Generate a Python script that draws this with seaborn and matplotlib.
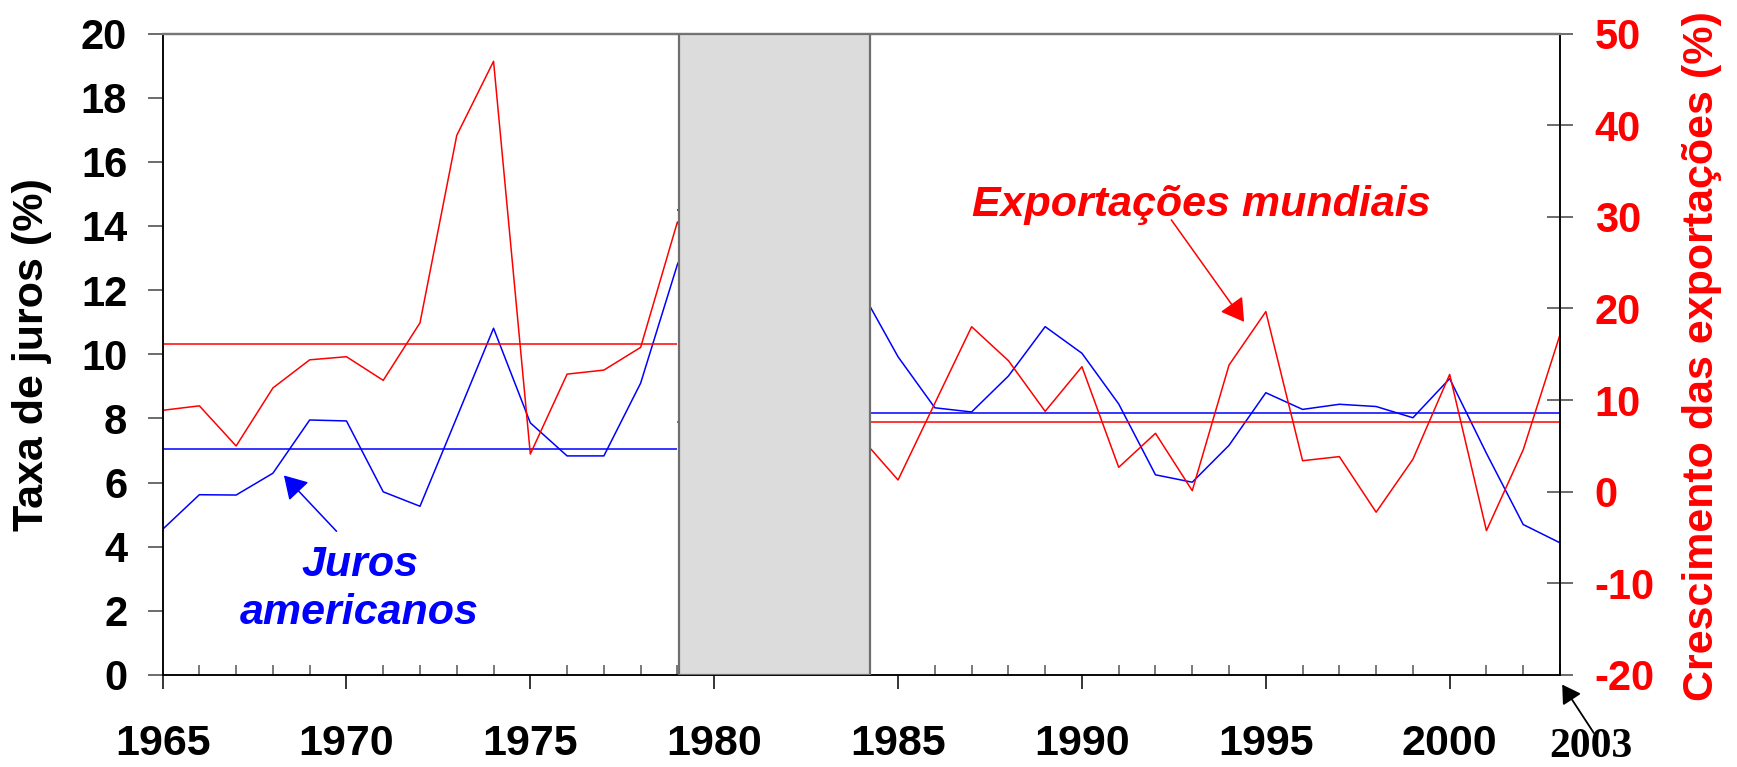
import numpy as np
import pandas as pd
import matplotlib.pyplot as plt
import seaborn as sns

# Dados
anos = list(range(1965, 2004))
juros = [4.54, 5.62, 5.61, 6.29, 7.95, 7.92, 5.71, 5.26, 8.03, 10.81,
         7.86, 6.83, 6.83, 9.10, 12.80, 15.3, 18.9, 14.9, 10.8, 11.98,
         9.92, 8.33, 8.20, 9.32, 10.86, 10.03, 8.45, 6.24, 6.01, 7.16,
         8.80, 8.28, 8.44, 8.37, 8.02, 9.24, 6.91, 4.69, 4.12]
exportacoes = [8.88, 9.37, 4.99, 11.32, 14.39, 14.73, 12.15, 18.43, 38.89, 46.97,
               4.11, 12.83, 13.27, 15.75, 29.44, 20.7, -1.5, -6.5, -2.0, 5.84,
               1.28, 9.65, 18.0, 14.3, 8.77, 13.64, 2.66, 6.37, 0.11, 13.82,
               19.65, 3.38, 3.83, -2.24, 3.54, 12.8, -4.25, 4.57, 17.13]

# Médias por período
juros_media = [7.03, 14.5, 8.17]
juros_media_ini = [1965, 1979, 1984]
juros_media_fim = [1979, 1984, 2003]
export_media = [16.1, 7.62]
export_media_ini = [1965, 1979]
export_media_fim = [1979, 2003]

# Período sombreado
sombra_ini, sombra_fim = 1979.04, 1984.23

df = pd.DataFrame({'ano': anos, 'juros': juros, 'exportacoes': exportacoes})

sns.set_style('ticks')
plt.rcParams['font.family'] = ['Liberation Sans', 'DejaVu Sans']
plt.rcParams['font.weight'] = 'bold'
plt.rcParams['axes.labelweight'] = 'bold'
plt.rcParams['axes.unicode_minus'] = False
plt.rcParams['text.color'] = 'black'
plt.rcParams['xtick.labelcolor'] = 'black'
plt.rcParams['ytick.labelcolor'] = 'black'

AZUL = '#0000ff'
VERMELHO = '#ff0000'

fig, ax = plt.subplots(figsize=(17.37, 7.67), dpi=100)
fig.subplots_adjust(left=0.0936, right=0.8981, top=0.9563, bottom=0.12)
ax2 = ax.twinx()

# Juros americanos (eixo esquerdo)
sns.lineplot(data=df, x='ano', y='juros', ax=ax, color=AZUL, lw=1.1)
ax.hlines(juros_media, juros_media_ini, juros_media_fim, color=AZUL, lw=1.1)

# Exportações mundiais (eixo direito)
sns.lineplot(data=df, x='ano', y='exportacoes', ax=ax2, color=VERMELHO, lw=1.1)
ax2.hlines(export_media, export_media_ini, export_media_fim, color=VERMELHO, lw=1.1)

ax2.axvspan(sombra_ini, sombra_fim, facecolor='#dcdcdc', edgecolor='#6e6e6e',
            lw=1.6, zorder=10)

ax.set_xlim(1965, 2003)
ax.set_ylim(0, 20)
ax2.set_ylim(-20, 50)

ax.set_xticks(range(1965, 2001, 5))
ax.set_xticks(range(1965, 2004), minor=True)
ax.set_yticks(range(0, 21, 2))
ax2.set_yticks(range(-20, 51, 10))

ax.tick_params(axis='x', which='major', direction='out', length=10.3, width=1.1,
               labelsize=31, pad=25, color='black', labelcolor='black')
ax.tick_params(axis='x', which='minor', direction='in', length=7.2, width=1.1,
               color='#555555')
ax.tick_params(axis='y', direction='out', length=10.5, width=1.1, labelsize=30,
               pad=15, color='#444444', labelcolor='black')
ax2.tick_params(axis='y', direction='inout', length=19, width=1.1, labelsize=30,
                pad=15.5, labelcolor=VERMELHO, color='#444444')

ax.set_xlabel('')
ax.set_ylabel('Taxa de juros (%)', fontsize=31, color='black')
ax.yaxis.set_label_coords(-0.079, 0.5)
ax2.set_ylabel('Crescimento das exportações (%)', fontsize=31, color=VERMELHO)
ax2.yaxis.set_label_coords(1.087, 0.497)

for a in (ax, ax2):
    a.spines['top'].set_color('#777777')
    a.spines['top'].set_linewidth(1.6)
    a.spines['left'].set_color('black')
    a.spines['bottom'].set_color('black')
    a.spines['right'].set_color('black')
    for s in ('left', 'bottom', 'right'):
        a.spines[s].set_linewidth(1.1)

# Anotações
seta = dict(arrowstyle='-|>,head_length=0.5,head_width=0.3', mutation_scale=28,
            lw=1.1, shrinkA=0, shrinkB=0)

ax.text(1970.36, 2.69, 'Juros\namericanos', color=AZUL, fontsize=31,
        fontweight='bold', fontstyle='italic', ha='center', va='center',
        linespacing=1.25, zorder=20)
ax2.annotate('', xy=(1968.30, -20 + 6.22 * 3.5), xytext=(1969.73, -20 + 4.48 * 3.5),
             arrowprops=dict(seta, color=AZUL), zorder=20)

ax2.text(1993.24, -20 + 14.65 * 3.5, 'Exportações mundiais', color=VERMELHO,
         fontsize=31, fontweight='bold', fontstyle='italic', ha='center',
         va='center', zorder=20)
ax2.annotate('', xy=(1994.41, -20 + 11.01 * 3.5), xytext=(1992.43, -20 + 14.19 * 3.5),
             arrowprops=dict(seta, color=VERMELHO), zorder=20)

ax.annotate('', xy=(2003.06, -0.30), xytext=(2003.92, -1.81),
            arrowprops=dict(arrowstyle='-|>,head_length=0.5,head_width=0.3',
                            mutation_scale=22, lw=1.3, color='black',
                            shrinkA=0, shrinkB=0),
            annotation_clip=False)
ax.text(2003.84, -2.57, '2003', fontsize=30, fontweight='bold',
        family=['Liberation Serif', 'DejaVu Serif'], ha='center', va='baseline',
        clip_on=False)

fig.savefig('out.png', dpi=100)
